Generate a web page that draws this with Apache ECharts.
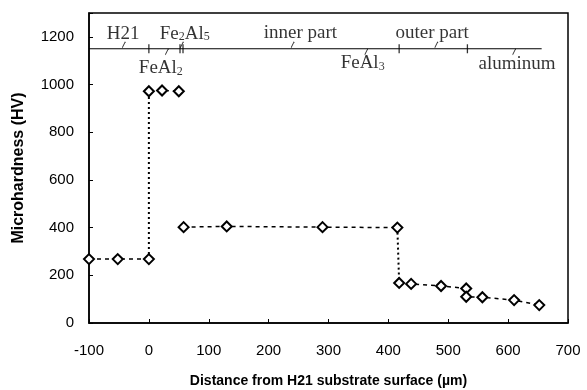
<!DOCTYPE html>
<html>
<head>
<meta charset="utf-8">
<script src="https://cdn.jsdelivr.net/npm/echarts@6/dist/echarts.min.js"></script>
<style>
  html, body { margin: 0; padding: 0; background: #fff; }
  #chart { width: 587px; height: 390px; }
</style>
</head>
<body>
<div id="chart"></div>
<script>
// hardness profile (distance in um, hardness in HV)
var substrateX = [-100, -52, 0]
var substrateY = [268, 268, 268]
var feal2X = [0, 22, 50]
var feal2Y = [972, 975, 972]
var innerX = [58, 130, 290, 415]
var innerY = [402, 405, 402, 400]
var outerX = [418, 438, 488, 530, 530, 557, 610, 652]
var outerY = [168, 164, 155, 145, 110, 108, 96, 75]

// layer scale drawn across the top
var scaleY = 1150
var scaleStart = -100
var scaleEnd = 656
var boundaryX = [0, 52, 57, 418, 532]
var layerNames = ['H21', '{n|Fe}{s|2}{n|Al}{s|5}', 'inner part', 'outer part', '{n|FeAl}{s|2}', '{n|FeAl}{s|3}', 'aluminum']
var layerX = [-43, 60, 253, 473, 20, 357, 615]
var layerY = [1213, 1213, 1215, 1218, 1068, 1090, 1088]
var pointerX = [-42, 55, 240, 480, 30, 363, 610]
var pointerAbove = [true, true, true, true, false, false, false]

var xTicks = { min: -100, max: 700, step: 100 }
var yTicks = { min: 0, max: 1300, step: 200 }

function pairs(xs, ys) {
  return xs.map(function (x, i) { return [x, ys[i]] })
}

var chart = echarts.init(document.getElementById('chart'))

var pointStyle = {
  symbol: 'diamond',
  symbolSize: [10, 10],
  itemStyle: { color: '#fff', borderColor: '#000', borderWidth: 2 },
  lineStyle: { color: '#000', width: 1.5, type: [4, 4] }
}

function profile(xs, ys) {
  return Object.assign({
    type: 'line',
    data: pairs(xs, ys),
    z: 5,
    silent: true
  }, pointStyle)
}

function dropLine(a, b) {
  return {
    type: 'line',
    data: [a, b],
    symbol: 'none',
    z: 3,
    silent: true,
    lineStyle: { color: '#000', width: 2, type: [2, 3] }
  }
}

var labelData = layerNames.map(function (t, i) {
  return { value: [layerX[i], layerY[i]], name: t }
})

var pointerData = pointerX.map(function (x, i) {
  return { value: [x, scaleY], symbolOffset: [0, pointerAbove[i] ? -4 : 3] }
})

chart.setOption({
  animation: false,
  grid: {
    left: 89,
    right: 19,
    top: 13,
    bottom: 67,
    outerBoundsMode: 'none',
    containLabel: false,
    show: true,
    borderColor: '#000',
    borderWidth: 1.5
  },
  xAxis: {
    type: 'value',
    min: xTicks.min,
    max: xTicks.max,
    interval: xTicks.step,
    name: 'Distance from H21 substrate surface (\u00b5m)',
    nameLocation: 'middle',
    nameGap: 51,
    nameTextStyle: { fontFamily: 'Liberation Sans', fontWeight: 'bold', fontSize: 14, color: '#000' },
    axisLine: { onZero: false, lineStyle: { color: '#000', width: 1.5 } },
    axisTick: { inside: true, length: 4, lineStyle: { color: '#000' } },
    axisLabel: { fontFamily: 'Liberation Sans', fontSize: 15, color: '#000', margin: 20 },
    splitLine: { show: false }
  },
  yAxis: {
    type: 'value',
    min: yTicks.min,
    max: yTicks.max,
    interval: yTicks.step,
    name: 'Microhardness (HV)',
    nameLocation: 'middle',
    nameGap: 62,
    nameTextStyle: { fontFamily: 'Liberation Sans', fontWeight: 'bold', fontSize: 16, color: '#000' },
    axisLine: { onZero: false, lineStyle: { color: '#000', width: 1.5 } },
    axisTick: { inside: true, length: 4, lineStyle: { color: '#000' } },
    axisLabel: {
      fontFamily: 'Liberation Sans',
      fontSize: 15,
      color: '#000',
      margin: 15,
      formatter: function (v) { return v > 1200 ? '' : v }
    },
    splitLine: { show: false }
  },
  series: [
    profile(substrateX, substrateY),
    profile(feal2X, feal2Y),
    profile(innerX, innerY),
    profile(outerX, outerY),
    dropLine([substrateX[2], substrateY[2]], [feal2X[0], feal2Y[0]]),
    dropLine([innerX[3], innerY[3]], [outerX[0], outerY[0]]),
    {
      // layer scale line
      type: 'line',
      data: [[scaleStart, scaleY], [scaleEnd, scaleY]],
      symbol: 'none',
      silent: true,
      lineStyle: { color: '#000', width: 1.2 }
    },
    {
      // layer boundaries
      type: 'scatter',
      data: boundaryX.map(function (x) { return [x, scaleY] }),
      symbol: 'rect',
      symbolSize: [1.3, 9],
      silent: true,
      itemStyle: { color: '#000' }
    },
    {
      // pointers from names to the scale
      type: 'scatter',
      data: pointerData,
      symbol: 'path://M0,10L5,0',
      symbolSize: [3, 6],
      silent: true,
      itemStyle: { color: 'none', borderColor: '#000', borderWidth: 1 }
    },
    {
      type: 'scatter',
      data: labelData,
      symbolSize: 0,
      silent: true,
      itemStyle: { color: '#fff' },
      label: {
        show: true,
        position: 'inside',
        formatter: function (p) { return p.name },
        fontFamily: 'Liberation Serif',
        fontSize: 19,
        color: '#000',
        textBorderWidth: 0,
        rich: {
          n: { fontFamily: 'Liberation Serif', fontSize: 19, color: '#000', lineHeight: 19, textBorderWidth: 0 },
          s: { fontFamily: 'Liberation Serif', fontSize: 12, color: '#000', lineHeight: 8, verticalAlign: 'bottom', textBorderWidth: 0 }
        }
      }
    }
  ]
})
</script>
</body>
</html>
